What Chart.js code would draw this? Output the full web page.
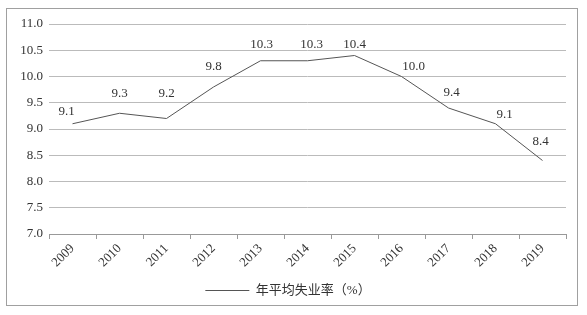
<!DOCTYPE html>
<html>
<head>
<meta charset="utf-8">
<script src="https://cdn.jsdelivr.net/npm/chart.js@4.4.1/dist/chart.umd.min.js"></script>
<style>
  body { margin: 0; background: #fff; }
  #wrap { position: relative; width: 587px; height: 315px; }
  #frame { position: absolute; left: 6px; top: 8px; width: 570px; height: 296px; border: 1px solid #a0a0a0; pointer-events: none; }
  .probe { position: absolute; left: -999px; font-family: "Liberation Serif"; }
</style>
</head>
<body>
<div id="wrap">
  <canvas id="rateChart" width="587" height="315"></canvas>
  <div id="frame"></div>
</div>
<span class="probe">2009 年</span>
<script>
let years = ['2009', '2010', '2011', '2012', '2013', '2014', '2015', '2016', '2017', '2018', '2019'];
let rates = [9.1, 9.3, 9.2, 9.8, 10.3, 10.3, 10.4, 10.0, 9.4, 9.1, 8.4];
let seriesName = '年平均失业率（%）';

// label nudges relative to each point, in px (where the labels sit in the picture)
let labelNudge = [[-6, -12], [0, -20], [0, -25], [0, -20], [1, -16], [4, -16], [0, -11], [12, -10], [3, -15], [9, -9], [-2, -19]];

const fontFam = "'Liberation Serif', 'Noto Sans CJK SC', serif";

const pointLabels = {
  id: 'pointLabels',
  afterDatasetsDraw(chart) {
    const ctx = chart.ctx;
    const meta = chart.getDatasetMeta(0);
    ctx.save();
    ctx.font = '13px ' + fontFam;
    ctx.fillStyle = '#333';
    ctx.textAlign = 'center';
    ctx.textBaseline = 'middle';
    meta.data.forEach((pt, i) => {
      let n = labelNudge[i];
      ctx.fillText(rates[i].toFixed(1), pt.x + n[0], pt.y + n[1]);
    });
    ctx.restore();
  }
};

function drawChart() {
  const ctx = document.getElementById('rateChart').getContext('2d');
  new Chart(ctx, {
    type: 'line',
    data: {
      labels: years,
      datasets: [
        {
          label: seriesName,
          data: rates,
          borderColor: '#555',
          borderWidth: 1,
          pointRadius: 0,
          tension: 0,
          fill: false
        }
      ]
    },
    options: {
      responsive: false,
      animation: false,
      layout: { padding: { left: 10, right: 21, top: 24, bottom: 8 } },
      plugins: {
        legend: {
          position: 'bottom',
          labels: {
            usePointStyle: true,
            pointStyle: 'line',
            pointStyleWidth: 44,
            boxHeight: 13,
            color: '#333',
            padding: 10,
            font: { family: fontFam, size: 13 }
          }
        },
        tooltip: { enabled: false }
      },
      scales: {
        x: {
          offset: true,
          grid: { offset: true, drawOnChartArea: false, tickLength: 5, color: '#999' },
          border: { color: '#999' },
          ticks: {
            color: '#333',
            maxRotation: 45,
            minRotation: 45,
            padding: 2,
            font: { family: fontFam, size: 13 }
          },
          afterFit(scale) { scale.height = 40; }
        },
        y: {
          min: 7,
          max: 11,
          grid: { color: '#bbb', drawTicks: false },
          border: { display: false },
          ticks: {
            stepSize: 0.5,
            color: '#333',
            padding: 6,
            font: { family: fontFam, size: 13 },
            callback: v => v.toFixed(1)
          },
          afterFit(scale) { scale.width = 39; }
        }
      }
    },
    plugins: [pointLabels]
  });
}

document.fonts.load("13px 'Liberation Serif'").then(drawChart, drawChart);
</script>
</body>
</html>
